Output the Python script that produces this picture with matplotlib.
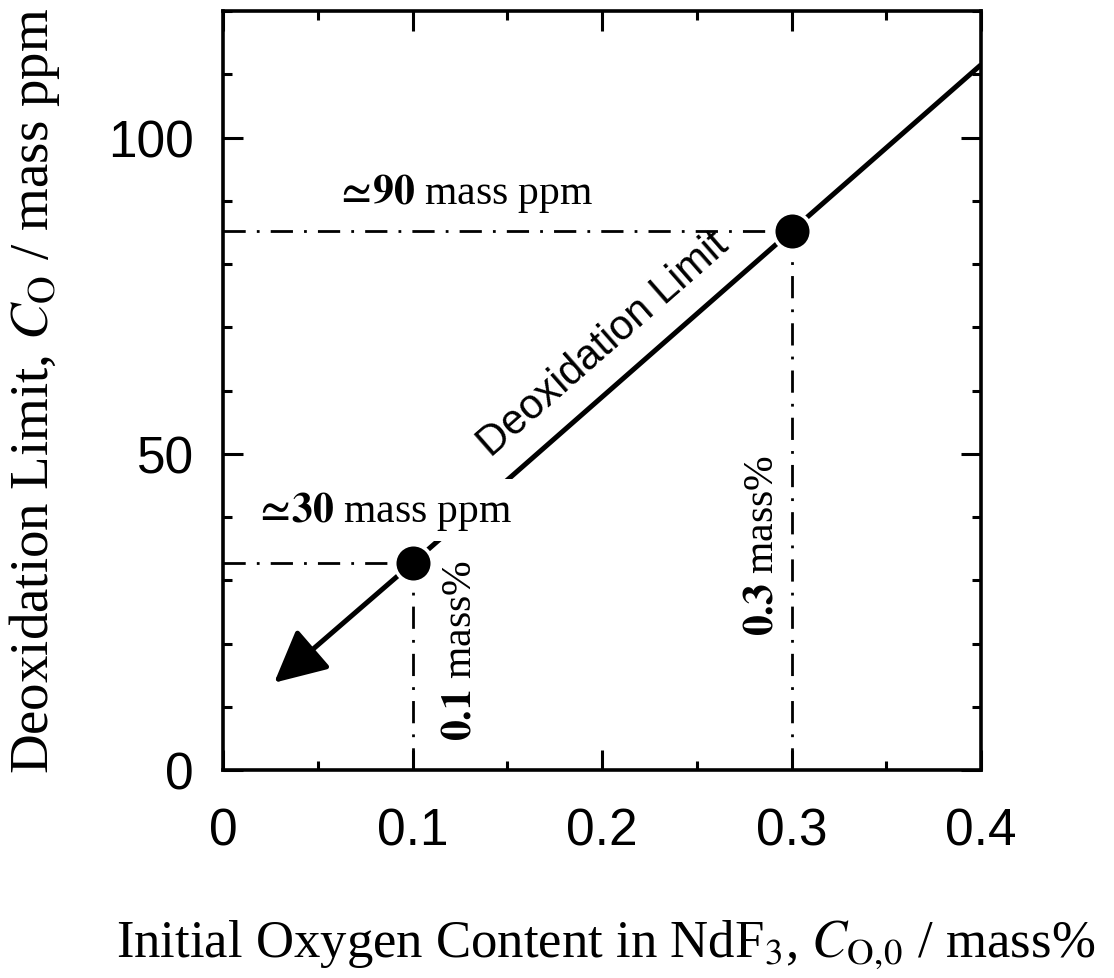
import numpy as np
import matplotlib
matplotlib.use("Agg")
import matplotlib.pyplot as plt
from matplotlib.ticker import MultipleLocator

plt.rcParams['mathtext.fontset'] = 'stix'
plt.rcParams['lines.scale_dashes'] = False

# ---- data ----
point_x = [0.1, 0.3]
point_y = [32.7, 85.2]
limit_x = [0.1, 0.4]
limit_y = [32.7, 111.5]
arrow_tip = (0.027, 13.8)
x_ticks = [0, 0.1, 0.2, 0.3, 0.4]
x_ticklabels = ["0", "0.1", "0.2", "0.3", "0.4"]
y_ticks = [0, 50, 100]
y_ticklabels = ["0", "50", "100"]

W, H = 1114, 979
fig = plt.figure(figsize=(W / 100, H / 100), dpi=100)
ax = fig.add_axes([223 / W, 1 - 771 / H, (981 - 223) / W, (771 - 12) / H])
ax.set_xlim(0, 0.4)
ax.set_ylim(0, 120)

for s in ax.spines.values():
    s.set_linewidth(2.6)

ax.set_xticks(x_ticks)
ax.set_xticklabels(x_ticklabels)
ax.set_yticks(y_ticks)
ax.set_yticklabels(y_ticklabels)
ax.xaxis.set_minor_locator(MultipleLocator(0.05))
ax.yaxis.set_minor_locator(MultipleLocator(10))
ax.tick_params(which='both', direction='in', top=True, right=True, width=2.2)
ax.tick_params(which='major', length=14.5)
ax.tick_params(which='minor', length=6.5)
ax.tick_params(axis='x', which='major', pad=26)
ax.tick_params(axis='y', which='major', pad=21)
for lab in ax.get_xticklabels() + ax.get_yticklabels():
    lab.set_family('Liberation Sans')
    lab.set_fontsize(37)

dd = (0, (16, 8, 2, 8))
# guide lines (dash-dot)
for px, py in zip(point_x, point_y):
    ax.plot([0, px], [py, py], color='black', lw=2.0, linestyle=dd, zorder=2)
    ax.plot([px, px], [0, py], color='black', lw=2.0, linestyle=dd, zorder=2)

# deoxidation limit line
ax.plot(limit_x, limit_y, color='black', lw=3.6, solid_capstyle='butt', zorder=3)

# arrow
ax.annotate('', xy=arrow_tip, xytext=(point_x[0], point_y[0]),
            arrowprops=dict(arrowstyle='-|>,head_length=1.6,head_width=0.8',
                            lw=3.6, color='black', mutation_scale=20,
                            shrinkA=0, shrinkB=0), zorder=3)

# points
ax.plot(point_x, point_y, 'o', color='black', ms=27, mec='white', mew=2.5,
        zorder=6, clip_on=False)

serif = ['Liberation Serif', 'DejaVu Serif']
ax.text(0.0842, 39.4, r'$\mathbf{\simeq\!30}$ mass ppm', family=serif, fontsize=30,
        ha='center', va='baseline', zorder=5,
        bbox=dict(facecolor='white', edgecolor='none', pad=7))
ax.text(0.1269, 89.6, r'$\mathbf{\simeq\!90}$ mass ppm', family=serif, fontsize=30,
        ha='center', va='baseline', zorder=5)
ax.text(0.125, 19.1, r'$\mathbf{0.1}$ mass%', family=serif, fontsize=30,
        ha='center', va='center', rotation=90, zorder=5)
ax.text(0.2844, 35.6, r'$\mathbf{0.3}$ mass%', family=serif, fontsize=30,
        ha='center', va='center', rotation=90, zorder=5)

# rotated label along the line
p0 = ax.transData.transform((limit_x[0], limit_y[0]))
p1 = ax.transData.transform((limit_x[1], limit_y[1]))
ang = np.degrees(np.arctan2(p1[1] - p0[1], p1[0] - p0[0]))
ax.text(0.201, 67.4, 'Deoxidation Limit', family='Liberation Sans', fontsize=30,
        rotation=ang, rotation_mode='anchor', ha='center', va='center', zorder=5)

# axis labels
fig.text(35 / W, 1 - 391 / H, r'Deoxidation Limit, $C_\mathrm{O}$ / mass ppm',
         family=serif, fontsize=39.5, rotation=90, ha='center', va='center')
fig.text(606 / W, 1 - 945 / H, r'Initial Oxygen Content in NdF$_3$, $C_\mathrm{O,\!0}$ / mass%',
         family=serif, fontsize=38, ha='center', va='center')

fig.savefig('out.png', dpi=100)
